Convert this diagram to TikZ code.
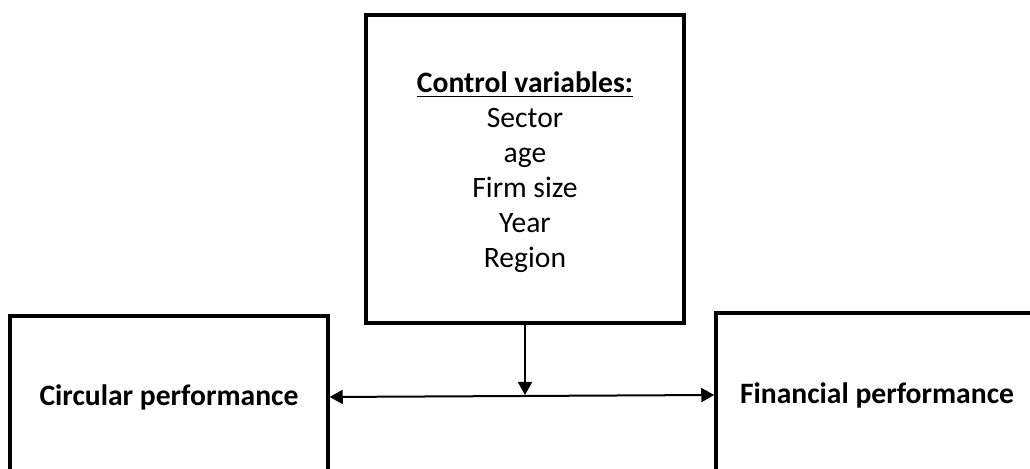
\documentclass[tikz,border=0pt]{standalone}
\usepackage{fontspec}
\setmainfont{Carlito}
\usetikzlibrary{arrows.meta}
\begin{document}
\begin{tikzpicture}[x=0.5pt, y=-0.5pt, >={Triangle[length=6.5pt,width=7pt]},
    box/.style={draw, line width=1.75pt, align=center, inner sep=0pt,
        font=\fontsize{14.8}{17.5}\selectfont}]
\clip (0,0) rectangle (1030,469);
\useasboundingbox (0,0) rectangle (1030,469);
\node[box, minimum width=159pt, minimum height=154pt] (ctrl) at (525,169)
    {\rule{0pt}{14pt}\underline{\textbf{Control variables:}}\\Sector\\age\\Firm size\\Year\\Region};
\node[box, minimum width=159pt, minimum height=81pt] (circ) at (169,397)
    {\textbf{Circular performance}};
\node[box, minimum width=161pt, minimum height=82pt] (fin) at (877,395)
    {\textbf{Financial performance}};

\draw[<->, line width=1pt](circ.east)--(fin.west);
\draw[->, line width=1pt](ctrl.south)--(ctrl.south |- fin.west);
\end{tikzpicture}
\end{document}
